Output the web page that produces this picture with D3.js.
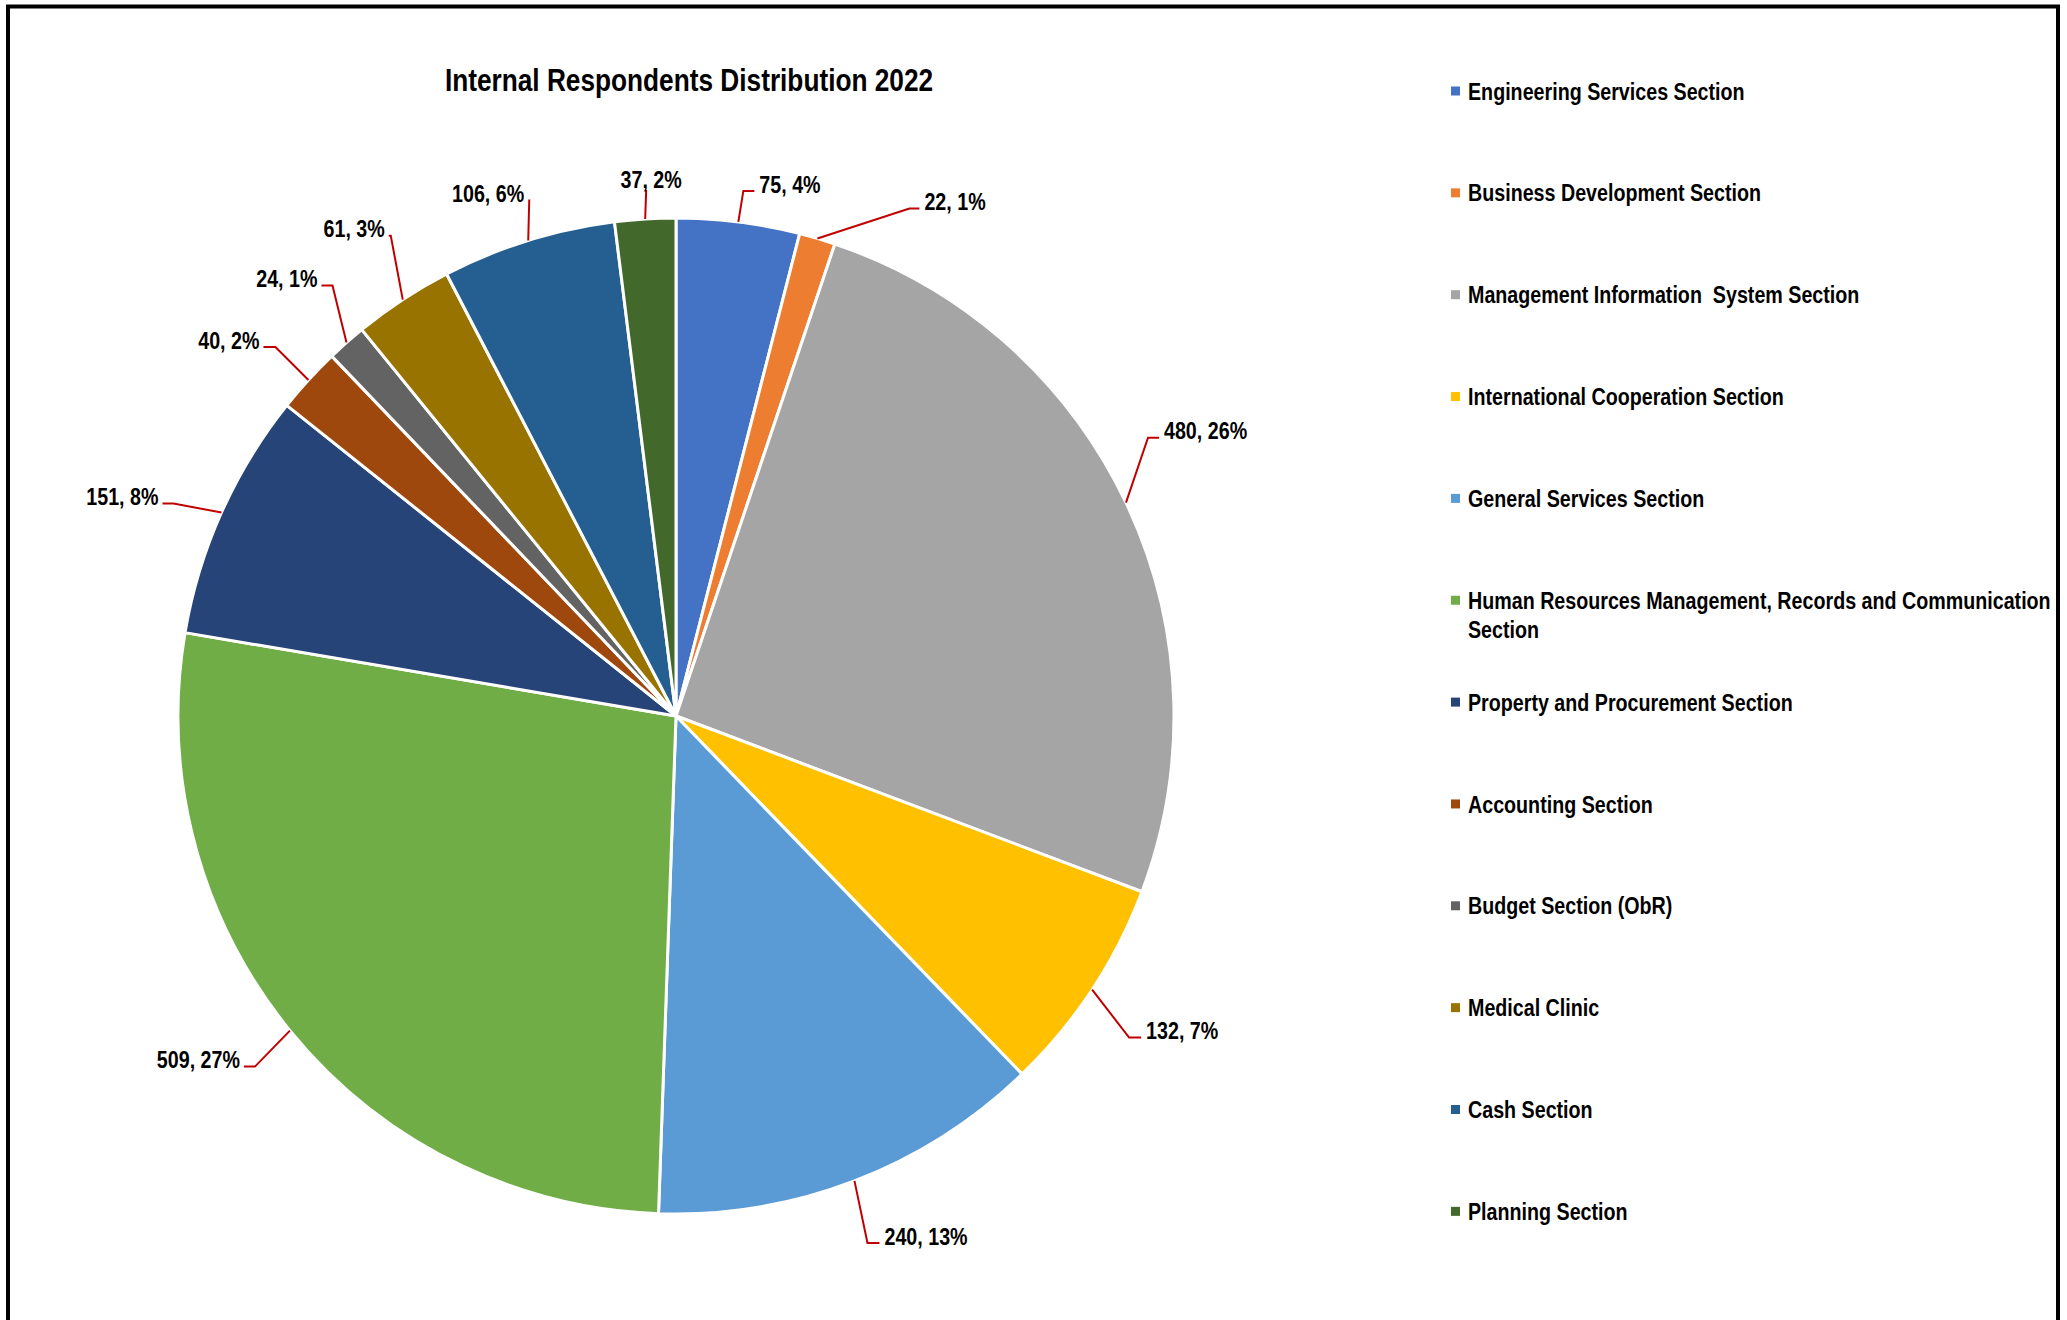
<!DOCTYPE html>
<html>
<head>
<meta charset="utf-8">
<script src="https://cdn.jsdelivr.net/npm/d3@7"></script>
<style>
  html, body { margin: 0; padding: 0; background: #fff; }
  svg text { font-family: "Liberation Sans", Arial, sans-serif; font-weight: bold; fill: #000; white-space: pre; }
</style>
</head>
<body>
<svg id="chart" width="2067" height="1320"></svg>
<script>
// ---- data ----
const title = "Internal Respondents Distribution 2022";
const categories = [
  "Engineering Services Section",
  "Business Development Section",
  "Management Information  System Section",
  "International Cooperation Section",
  "General Services Section",
  "Human Resources Management, Records and Communication Section",
  "Property and Procurement Section",
  "Accounting Section",
  "Budget Section (ObR)",
  "Medical Clinic",
  "Cash Section",
  "Planning Section"
];
const values = [75, 22, 480, 132, 240, 509, 151, 40, 24, 61, 106, 37];
const colors = ["#4472C4", "#ED7D31", "#A5A5A5", "#FFC000", "#5B9BD5", "#70AD47",
                "#264478", "#9E480E", "#636363", "#997300", "#255E91", "#43682B"];
// legend label line breaks
const legendLines = [
  ["Engineering Services Section"],
  ["Business Development Section"],
  ["Management Information  System Section"],
  ["International Cooperation Section"],
  ["General Services Section"],
  ["Human Resources Management, Records and Communication", "Section"],
  ["Property and Procurement Section"],
  ["Accounting Section"],
  ["Budget Section (ObR)"],
  ["Medical Clinic"],
  ["Cash Section"],
  ["Planning Section"]
];
// leader layout: elbow offset from slice edge [dx, dy], horizontal run h (sign = side)
const leaderLayout = [
  [5, -31, 11], [92, -30, 10], [22, -65, 11], [37, 48, 12],
  [13, 62, 12], [-35, 36, -11], [-48, -9, -11], [-33, -33, -12],
  [-14, -57, -11], [-12, -64, -2], [1, -40, -1], [1, -29, 0]
];

// ---- layout ----
const cx = 676, cy = 716, R = 498;
const NARROW = 0.82;
const svg = d3.select("#chart");

function narrowText(parent, x, y, anchor, size, str) {
  const gg = parent.append("g").attr("transform", `translate(${x},${y}) scale(${NARROW},1)`);
  return gg.append("text").attr("x", 0).attr("y", 0).attr("text-anchor", anchor)
    .style("font-size", size + "px").text(str);
}

// frame
svg.append("rect").attr("x", 8).attr("y", 6.5).attr("width", 2050).attr("height", 1400)
  .attr("fill", "none").attr("stroke", "#000").attr("stroke-width", 4);

// title
narrowText(svg, 689, 91, "middle", 32, title);

const total = d3.sum(values);
const pie = d3.pie().sort(null).value(d => d)(values);
const arc = d3.arc().innerRadius(0).outerRadius(R);

const g = svg.append("g").attr("transform", `translate(${cx},${cy})`);
g.selectAll("path.slice").data(pie).join("path")
  .attr("class", "slice")
  .attr("d", arc)
  .attr("fill", (d, i) => colors[i])
  .attr("stroke", "#fff").attr("stroke-width", 3).attr("stroke-linejoin", "round");

// labels + leaders
pie.forEach((d, i) => {
  const a = (d.startAngle + d.endAngle) / 2;
  const px = R * Math.sin(a), py = -R * Math.cos(a);
  const [dx, dy, h] = leaderLayout[i];
  const ex = px + dx, ey = py + dy;
  const fx = ex + h;
  g.append("path")
    .attr("d", d3.line()([[px, py], [ex, ey], [fx, ey]]))
    .attr("fill", "none").attr("stroke", "#C00000").attr("stroke-width", 2);
  const txt = `${values[i]}, ${Math.round(values[i] / total * 100)}%`;
  if (h === 0) {
    narrowText(g, ex + 5, ey - 11 + 8.6, "middle", 24, txt);
  } else if (h > 0) {
    narrowText(g, fx + 5, ey - 7 + 8.6, "start", 24, txt);
  } else {
    narrowText(g, fx - 4, ey - 7 + 8.6, "end", 24, txt);
  }
});

// legend
const legendY = d3.scalePoint().domain(d3.range(categories.length)).range([91, 91 + 11 * 101.85]);
const lg = svg.append("g");
categories.forEach((c, i) => {
  const y = legendY(i);
  lg.append("rect").attr("x", 1451).attr("y", y - 4.5).attr("width", 9).attr("height", 9)
    .attr("fill", colors[i]);
  legendLines[i].forEach((ln, k) => {
    narrowText(lg, 1468, y + 8.6 + k * 29, "start", 24, ln);
  });
});
</script>
</body>
</html>
